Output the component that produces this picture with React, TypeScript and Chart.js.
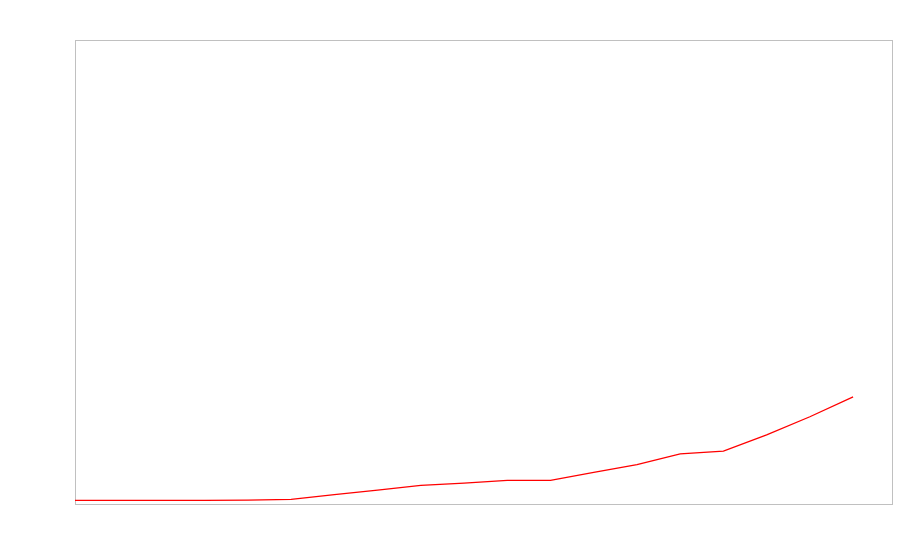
import React, { useEffect, useRef } from "react";
import { Chart, registerables } from "chart.js";

Chart.register(...registerables);

const xIndex = [0, 1, 2, 3, 4, 5, 6, 7, 8, 9, 10, 11, 12, 13, 14, 15, 16, 17, 18];
const seriesValues = [0.8, 0.8, 0.8, 0.8, 0.85, 1.0, 2.0, 3.0, 4.0, 4.5, 5.1, 5.1, 6.8, 8.5, 10.8, 11.4, 14.9, 18.8, 23.1];
const xMax = 18.9;
const yMin = 0;
const yMax = 100;

export default function App() {
  const ref = useRef<HTMLCanvasElement | null>(null);
  useEffect(() => {
    if (!ref.current) return;
    const border = "#c0c0c0";
    const chart = new Chart(ref.current, {
      type: "line",
      data: {
        datasets: [
          {
            data: xIndex.map((x, i) => ({ x, y: seriesValues[i] })),
            borderColor: "#ff0000",
            borderWidth: 1.3,
            pointRadius: 0,
            fill: false,
            tension: 0,
          },
        ],
      },
      options: {
        animation: false,
        responsive: false,
        maintainAspectRatio: false,
        layout: { padding: { left: 67, top: 32, right: 0, bottom: 48 } },
        plugins: { legend: { display: false }, tooltip: { enabled: false } },
        scales: {
          x: {
            type: "linear",
            min: 0,
            max: xMax,
            ticks: { display: false },
            grid: { display: false },
            border: { display: true, color: border, width: 1 },
          },
          x2: {
            type: "linear",
            position: "top",
            min: 0,
            max: xMax,
            ticks: { display: false },
            grid: { display: false },
            border: { display: true, color: border, width: 1 },
          },
          y: {
            min: yMin,
            max: yMax,
            ticks: { display: false },
            grid: { display: false },
            border: { display: true, color: border, width: 1 },
          },
          y2: {
            position: "right",
            min: yMin,
            max: yMax,
            ticks: { display: false },
            grid: { display: false },
            border: { display: true, color: border, width: 1 },
          },
        },
      },
    });
    return () => chart.destroy();
  }, []);
  return (
    <div style={{ position: "fixed", left: 0, top: 0, width: 900, height: 560, background: "#fff" }}>
      <canvas ref={ref} width={900} height={560} style={{ width: 900, height: 560 }} />
    </div>
  );
}
